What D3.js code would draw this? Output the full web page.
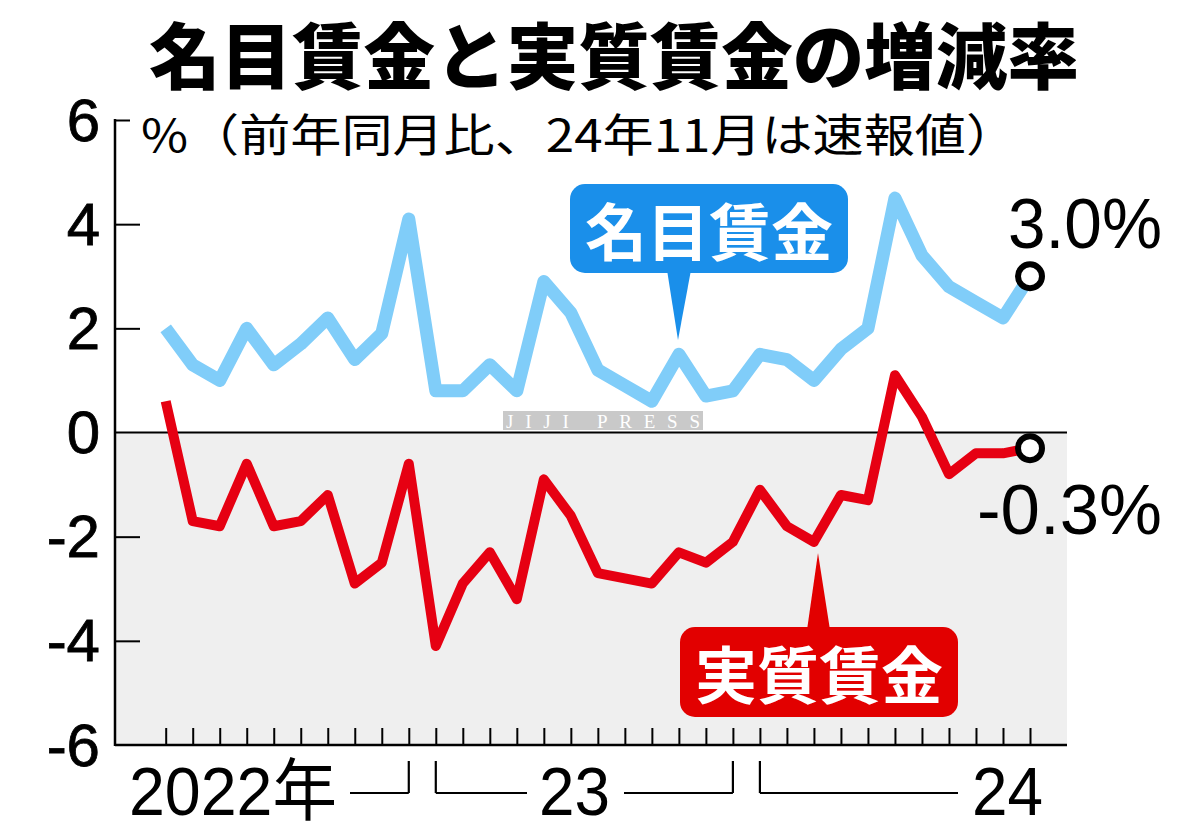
<!DOCTYPE html>
<html>
<head>
<meta charset="utf-8">
<script src="https://cdn.jsdelivr.net/npm/d3@7"></script>
<style>
  html, body { margin: 0; padding: 0; background: #fff; }
  svg { display: block; }
</style>
</head>
<body>
<svg id="chart" width="1200" height="840"></svg>
<script>
// ---- data ----
const months = [
  "2022-03","2022-04","2022-05","2022-06","2022-07","2022-08","2022-09","2022-10","2022-11","2022-12",
  "2023-01","2023-02","2023-03","2023-04","2023-05","2023-06","2023-07","2023-08","2023-09","2023-10","2023-11","2023-12",
  "2024-01","2024-02","2024-03","2024-04","2024-05","2024-06","2024-07","2024-08","2024-09","2024-10","2024-11"
];
const nominal = [2.0,1.3,1.0,2.0,1.3,1.7,2.2,1.4,1.9,4.1,
                 0.8,0.8,1.3,0.8,2.9,2.3,1.2,0.9,0.6,1.5,0.7,0.8,
                 1.5,1.4,1.0,1.6,2.0,4.5,3.4,2.8,2.5,2.2,3.0];
const real = [0.6,-1.7,-1.8,-0.6,-1.8,-1.7,-1.2,-2.9,-2.5,-0.6,
              -4.1,-2.9,-2.3,-3.2,-0.9,-1.6,-2.7,-2.8,-2.9,-2.3,-2.5,-2.1,
              -1.1,-1.8,-2.1,-1.2,-1.3,1.1,0.3,-0.8,-0.4,-0.4,-0.3];
const yTicks = [6,4,2,0,-2,-4,-6];
const yTickLabels = ["6","4","2","0","-2","-4","-6"];
const yearLabels = ["2022年","23","24"];
const yearFirst = ["2022-03","2023-01","2024-01"];
const yearLast = ["2022-12","2023-12","2024-11"];
const seriesNames = ["名目賃金","実質賃金"];
const lastLabels = ["3.0%","-0.3%"];
const titleText = "名目賃金と実質賃金の増減率";
const subtitleText = "%（前年同月比、24年11月は速報値）";

(function () {
// ---- layout ----
const svg = d3.select("#chart");
const pL = 115, pR = 1067, pT = 120, pB = 745;
const x = d3.scalePoint().domain(months).range([165.7, 1030]);
const y = d3.scaleLinear().domain([-6, 6]).range([pB, pT]);
const blue = "#80cdf9", red = "#e60012", boxBlue = "#1a8fea", boxRed = "#e20000";
const numFont = "'Liberation Sans', Arial, 'Noto Sans CJK JP', sans-serif";
const jpFont = "'Noto Sans CJK JP', 'Noto Sans', sans-serif";

// negative background
svg.append("rect").attr("x", pL).attr("y", y(0)).attr("width", pR - pL)
  .attr("height", pB - y(0)).attr("fill", "#efefef");

// zero line
svg.append("line").attr("x1", pL).attr("x2", pR).attr("y1", y(0)).attr("y2", y(0))
  .attr("stroke", "#000").attr("stroke-width", 2);

// y axis
const yAxis = d3.axisRight(y).tickValues(yTicks.filter(v => v !== 0 && v !== -6))
  .tickSize(25).tickFormat("");
const yg = svg.append("g").attr("transform", `translate(${pL},0)`).call(yAxis);
yg.select(".domain").remove();
yg.selectAll(".tick line").attr("stroke", "#000").attr("stroke-width", 2)
  .attr("x2", d => d === 6 ? 15 : 25);
svg.append("line").attr("x1", pL).attr("x2", pL).attr("y1", y(6) - 1).attr("y2", pB + 1)
  .attr("stroke", "#000").attr("stroke-width", 2.5);

// y labels
svg.selectAll(".ylab").data(yTicks).enter().append("text")
  .attr("class", "ylab")
  .attr("x", 100).attr("y", d => y(d))
  .attr("text-anchor", "end").attr("dominant-baseline", "central")
  .attr("font-family", numFont).attr("font-size", 60).attr("fill", "#000")
  .attr("stroke", "#000").attr("stroke-width", 0.8)
  .text((d, i) => yTickLabels[i]);

// x axis
const xAxis = d3.axisTop(x).tickSize(17).tickFormat("");
const xg = svg.append("g").attr("transform", `translate(0,${pB})`).call(xAxis);
xg.select(".domain").remove();
xg.selectAll(".tick line").attr("stroke", "#000").attr("stroke-width", 2);
svg.append("line").attr("x1", pL).attr("x2", pR).attr("y1", pB).attr("y2", pB)
  .attr("stroke", "#000").attr("stroke-width", 2.5);

// year brackets
const bTop = 761, bBot = 793, labBase = 815;
const yearText = svg.append("g").attr("font-family", numFont).attr("font-size", 68).attr("fill", "#000");
function seg(x1, y1, x2, y2) {
  svg.append("line").attr("x1", x1).attr("y1", y1).attr("x2", x2).attr("y2", y2)
    .attr("stroke", "#000").attr("stroke-width", 2.2);
}
// 2022
yearText.append("text").attr("x", 129).attr("y", labBase).attr("textLength", 208)
  .attr("lengthAdjust", "spacingAndGlyphs").text(yearLabels[0]);
seg(350, bBot, x(yearLast[0]), bBot); seg(x(yearLast[0]), bBot, x(yearLast[0]), bTop);
// 2023
seg(x(yearFirst[1]), bTop, x(yearFirst[1]), bBot); seg(x(yearFirst[1]), bBot, 527, bBot);
yearText.append("text").attr("x", 539).attr("y", labBase).attr("textLength", 71)
  .attr("lengthAdjust", "spacingAndGlyphs").text(yearLabels[1]);
seg(624, bBot, x(yearLast[1]), bBot); seg(x(yearLast[1]), bBot, x(yearLast[1]), bTop);
// 2024
seg(x(yearFirst[2]), bTop, x(yearFirst[2]), bBot); seg(x(yearFirst[2]), bBot, 958, bBot);
yearText.append("text").attr("x", 972).attr("y", labBase).attr("textLength", 71)
  .attr("lengthAdjust", "spacingAndGlyphs").text(yearLabels[2]);

// lines
const line = d3.line().x((d, i) => x(months[i])).y(d => y(d));
svg.append("path").datum(nominal).attr("d", line).attr("fill", "none")
  .attr("stroke", blue).attr("stroke-width", 13).attr("stroke-linejoin", "round");
svg.append("path").datum(real).attr("d", line).attr("fill", "none")
  .attr("stroke", red).attr("stroke-width", 10).attr("stroke-linejoin", "round");

// end circles
const lastM = months[months.length - 1];
[nominal[nominal.length - 1], real[real.length - 1]].forEach(v => {
  svg.append("circle").attr("cx", x(lastM)).attr("cy", y(v)).attr("r", 12)
    .attr("fill", "#fff").attr("stroke", "#000").attr("stroke-width", 6);
});
// end labels
svg.append("text").attr("x", 1008).attr("y", 248).attr("textLength", 154)
  .attr("lengthAdjust", "spacingAndGlyphs")
  .attr("font-family", numFont).attr("font-size", 70).text(lastLabels[0]);
svg.append("text").attr("x", 977).attr("y", 534).attr("textLength", 185)
  .attr("lengthAdjust", "spacingAndGlyphs")
  .attr("font-family", numFont).attr("font-size", 70).text(lastLabels[1]);

// callouts
function callout(bx, by, bw, bh, tipX, tipY, baseL, baseR, baseY, color, label, ty) {
  svg.append("rect").attr("x", bx).attr("y", by).attr("width", bw).attr("height", bh)
    .attr("rx", 15).attr("fill", color);
  svg.append("path").attr("d", `M${baseL},${baseY}L${tipX},${tipY}L${baseR},${baseY}Z`).attr("fill", color);
  svg.append("text").attr("x", bx + bw / 2).attr("y", ty).attr("text-anchor", "middle")
    .attr("dominant-baseline", "central")
    .attr("font-family", jpFont).attr("font-weight", 700).attr("font-size", 62)
    .attr("fill", "#fff").text(label);
}
callout(570, 184, 278, 89, 678, 340, 667, 691, 270, boxBlue, seriesNames[0], 229);
callout(680, 627, 278, 90, 818, 553, 807, 830, 630, boxRed, seriesNames[1], 672);

// title & subtitle
svg.append("text").attr("x", 149).attr("y", 83).attr("textLength", 930)
  .attr("lengthAdjust", "spacingAndGlyphs")
  .attr("font-family", jpFont).attr("font-weight", 900).attr("font-size", 72)
  .attr("fill", "#000").text(titleText);
svg.append("text").attr("x", 141).attr("y", 152).attr("textLength", 876)
  .attr("lengthAdjust", "spacingAndGlyphs")
  .attr("font-family", jpFont).attr("font-weight", 400).attr("font-size", 45)
  .attr("fill", "#000").text(subtitleText);

// watermark
svg.append("rect").attr("x", 503).attr("y", 411).attr("width", 200).attr("height", 19).attr("fill", "#c9c9c9");
svg.append("text").attr("x", 506).attr("y", 428).attr("textLength", 194)
  .attr("lengthAdjust", "spacing")
  .attr("font-family", "'Liberation Serif', serif").attr("font-size", 19)
  .attr("fill", "#fff").text("JIJI PRESS");
})();
</script>
</body>
</html>
